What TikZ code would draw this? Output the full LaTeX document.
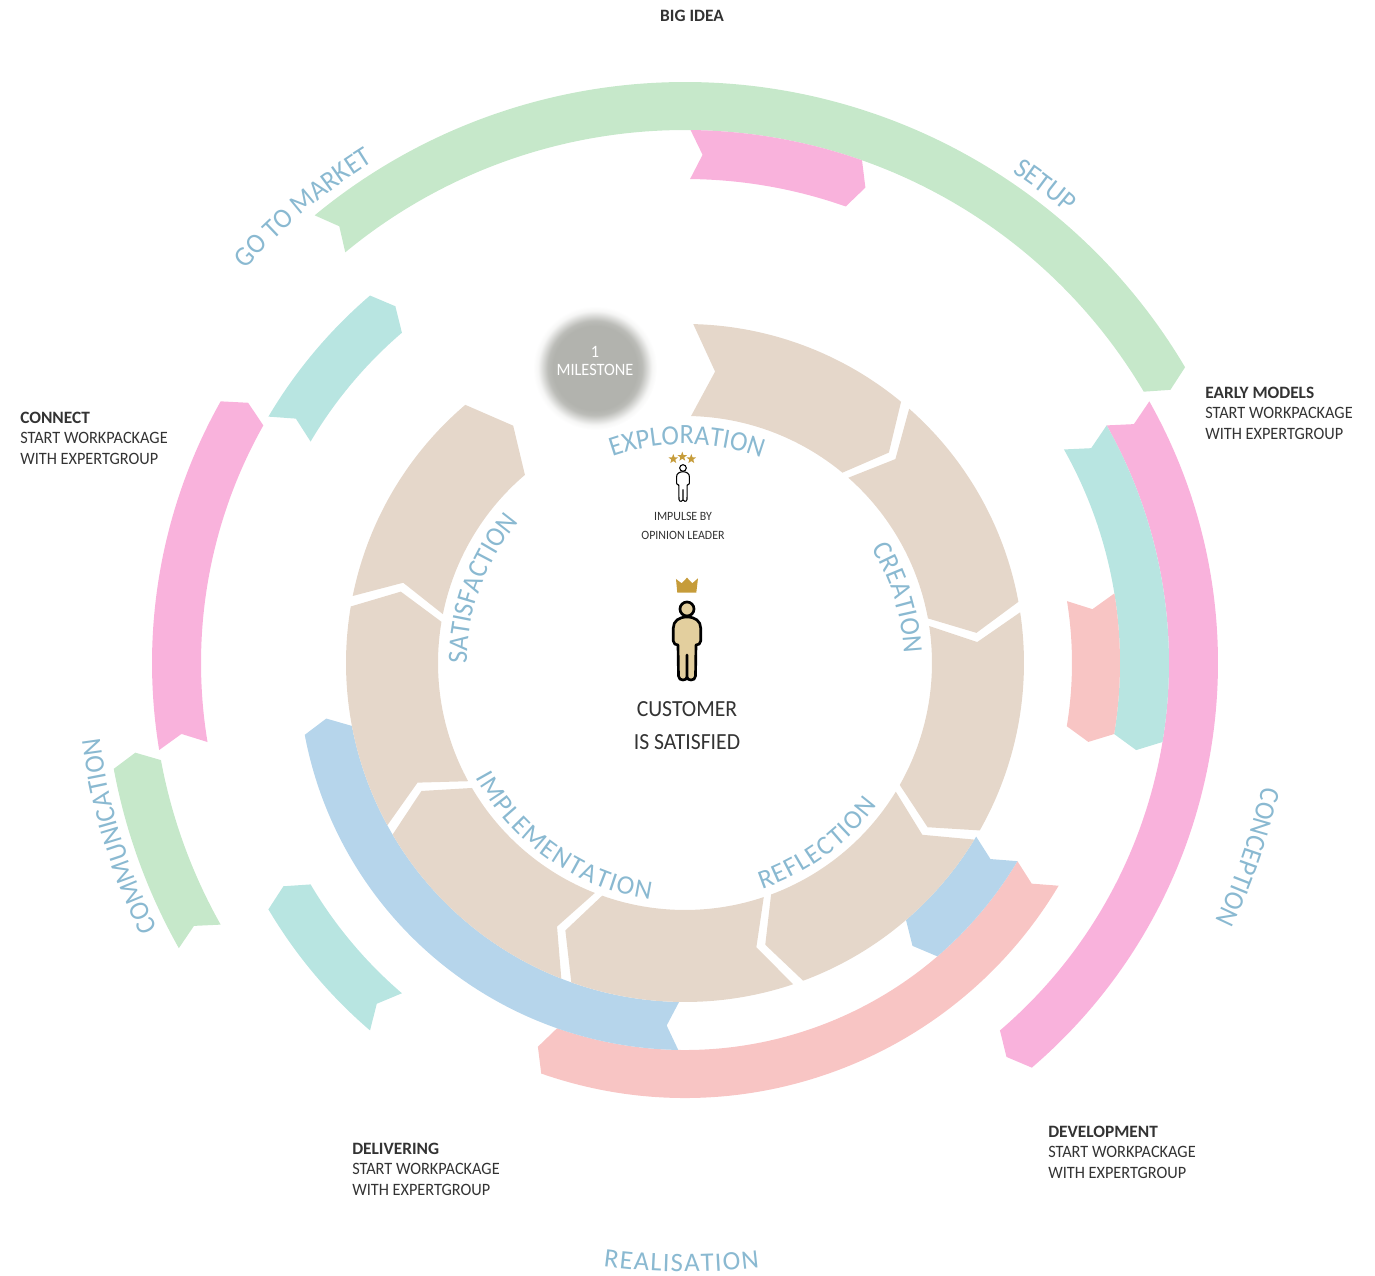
\documentclass[tikz,border=0pt]{standalone}
\usepackage{fontspec}
\setmainfont{Carlito}[FakeStretch=0.94, BoldFeatures={FakeStretch=1}]
\newfontfamily\arcwide{Carlito}
\usetikzlibrary{shapes.geometric, decorations.text}
\definecolor{beigeband}{HTML}{E5D7CA}
\definecolor{greenband}{HTML}{C6E8CA}
\definecolor{pinkband}{HTML}{F9B2DC}
\definecolor{tealband}{HTML}{B8E5E1}
\definecolor{salmonband}{HTML}{F8C5C4}
\definecolor{blueband}{HTML}{B6D5EB}
\definecolor{arcblue}{HTML}{8AB9D1}
\definecolor{darktext}{HTML}{333333}
\definecolor{crowngold}{HTML}{C69C3A}
\definecolor{skintone}{HTML}{E3CF9E}
\definecolor{milestonegray}{HTML}{B2B3AE}
\pgfdeclareradialshading{milestoneglow}{\pgfpoint{0bp}{0bp}}{
    color(0bp)=(milestonegray); color(17bp)=(milestonegray);
    color(19bp)=(milestonegray!88!white); color(21bp)=(milestonegray!50!white);
    color(23bp)=(milestonegray!12!white); color(25bp)=(white); color(50bp)=(white)}
\newcommand{\arcfont}{\fontsize{21}{24}\selectfont\color{arcblue}}
% the kern goes into the box of every letter
\newcommand{\arcwidefont}{\arcwide\fontsize{20}{24}\selectfont\color{arcblue}\kern1pt}
% angles run clockwise from the top
\newcommand{\ribbon}[5]{
    \pgfmathsetmacro{\ribmid}{(#4+#5)/2}
    \pgfmathsetmacro{\ribtip}{0.25*(#5-#4)/\ribmid*57.3}
    \fill[#1] ({90-(#2)}:#5) arc[start angle={90-(#2)}, end angle={90-(#3)}, radius=#5]
        -- ({90-(#3)-\ribtip}:\ribmid) -- ({90-(#3)}:#4)
        arc[start angle={90-(#3)}, end angle={90-(#2)}, radius=#4]
        -- ({90-(#2)-\ribtip}:\ribmid) -- cycle;
}
\newcommand{\arclabel}[4]{
    \path[decorate, decoration={text along path, text align=center, text={|\arcfont|#1}}]
        ({90-(#2)}:#4) arc[start angle={90-(#2)}, end angle={90-(#3)}, radius=#4];
}
\newcommand{\arclabelwide}[4]{
    \path[decorate, decoration={text along path, text align=center, text={|\arcwidefont|#1}}]
        ({90-(#2)}:#4) arc[start angle={90-(#2)}, end angle={90-(#3)}, radius=#4];
}

\begin{document}
\begin{tikzpicture}[
    x=0.75pt, y=0.75pt,
    % Styles
    label/.style={
        font=\fontsize{13}{15.4}\selectfont, text=darktext,
        align=left, anchor=west, inner sep=0pt
    },
    caption/.style={
        text=darktext, align=center, inner sep=0pt
    },
    goldstar/.style={
        star, star points=5, star point ratio=2.4, fill=crowngold,
        minimum size=7.5pt, inner sep=0pt
    },
    person/.pic={
        \draw[pic actions, line join=round]
            (0,-8) .. controls (-8,-8) and (-13.7,-12) .. (-13.7,-19)
            -- (-13.7,-32) .. controls (-13.7,-35) and (-11,-36) .. (-9,-36)
            -- (-8.5,-67) .. controls (-8.5,-70) and (-6,-71) .. (-4,-71)
            .. controls (-2,-71) and (0,-70) .. (0,-68) -- (0,-46) -- (0,-68)
            .. controls (0,-70) and (2,-71) .. (4,-71)
            .. controls (6,-71) and (8.5,-70) .. (8.5,-67)
            -- (9,-36) .. controls (11,-36) and (13.7,-35) .. (13.7,-32)
            -- (13.7,-19) .. controls (13.7,-12) and (8,-8) .. (0,-8) -- cycle;
        \draw[pic actions] (0,0) circle[radius=7];
    }
]
\useasboundingbox (-685,-613) rectangle (690,663);

% Outer ring
\ribbon{greenband}{-39.6}{59.4}{533}{581}
\ribbon{greenband}{240.6}{259.5}{533}{581}

% Second ring
\ribbon{pinkband}{0.6}{19.4}{484}{533}
\ribbon{pinkband}{60.6}{139.4}{484}{533}
\ribbon{pinkband}{260.6}{299.4}{484}{533}

% Third ring
\ribbon{tealband}{60.6}{99.4}{435}{484}
\ribbon{tealband}{220.6}{239.4}{435}{484}
\ribbon{tealband}{300.6}{319.4}{435}{484}

% Fourth ring
\ribbon{salmonband}{80.8}{99.4}{387}{435}
\ribbon{salmonband}{120.8}{199.3}{387}{435}

% Fifth ring
\ribbon{blueband}{120.8}{139.3}{339}{387}
\ribbon{blueband}{181}{259.3}{339}{387}

% Inner ring
\ribbon{beigeband}{1.4}{39.6}{247}{339}
\ribbon{beigeband}{41.4}{79.6}{247}{339}
\ribbon{beigeband}{81.4}{119.6}{247}{339}
\ribbon{beigeband}{121.4}{159.6}{247}{339}
\ribbon{beigeband}{161.4}{199.6}{247}{339}
\ribbon{beigeband}{201.4}{239.6}{247}{339}
\ribbon{beigeband}{241.4}{279.6}{247}{339}
\ribbon{beigeband}{281.4}{319.6}{247}{339}

% Inner phases
\arclabel{EXPLORATION}{-39.5}{40.5}{219}
\arclabel{CREATION}{33}{113}{219}
\arclabelwide{REFLECTION}{184}{104}{239}
\arclabelwide{IMPLEMENTATION}{260}{170}{239}
\arclabel{SATISFACTION}{250}{330}{218}

% Outer phases
\arclabel{GO TO MARKET}{-60}{-20}{590}
\arclabel{SETUP}{17}{57}{590}
\arclabel{CONCEPTION}{89}{129}{590}
\arclabelwide{REALISATION}{200.4}{160.4}{609}
\arclabel{COMMUNICATION}{233}{273}{590}

% Milestone
\shade[shading=milestoneglow] (-90,295) circle[radius=62];
\node[caption, text=white, font=\fontsize{13}{14.2}\selectfont] (milestone) at (-90,302) {1\\MILESTONE};

% Opinion leader
\node[goldstar] (star1) at (-11.7,204) {};
\node[goldstar] (star2) at (-2.7,206.3) {};
\node[goldstar] (star3) at (6.3,204) {};
\pic[scale=0.47, draw=black, fill=white, line width=0.8pt] (leader) at (-2,195) {person};
\node[caption, font=\fontsize{9.5}{14.2}\selectfont] (impulse) at (-2,137.5) {IMPULSE BY\\OPINION LEADER};

% Customer
\fill[crowngold] (-7.7,70.3) -- (-9,84) -- (-3.3,79.7) -- (2,85.3) -- (7.3,79.7) -- (13,84.7) -- (11.3,70.3) -- cycle;
\pic[draw=black, fill=skintone, line width=2pt] (customer) at (2,54) {person};
\node[caption, font=\fontsize{17.3}{24.7}\selectfont] (satisfied) at (2,-62.5) {CUSTOMER\\IS SATISFIED};

% Milestone labels
\node[caption, font=\fontsize{13}{15.4}\selectfont\bfseries] (bigidea) at (7,647) {BIG IDEA};
\node[label] (early) at (520,250) {\textbf{EARLY MODELS}\\START WORKPACKAGE\\WITH EXPERTGROUP};
\node[label] (connect) at (-665,225) {\textbf{CONNECT}\\START WORKPACKAGE\\WITH EXPERTGROUP};
\node[label] (delivering) at (-333,-506) {\textbf{DELIVERING}\\START WORKPACKAGE\\WITH EXPERTGROUP};
\node[label] (development) at (363,-489) {\textbf{DEVELOPMENT}\\START WORKPACKAGE\\WITH EXPERTGROUP};

\end{tikzpicture}
\end{document}
